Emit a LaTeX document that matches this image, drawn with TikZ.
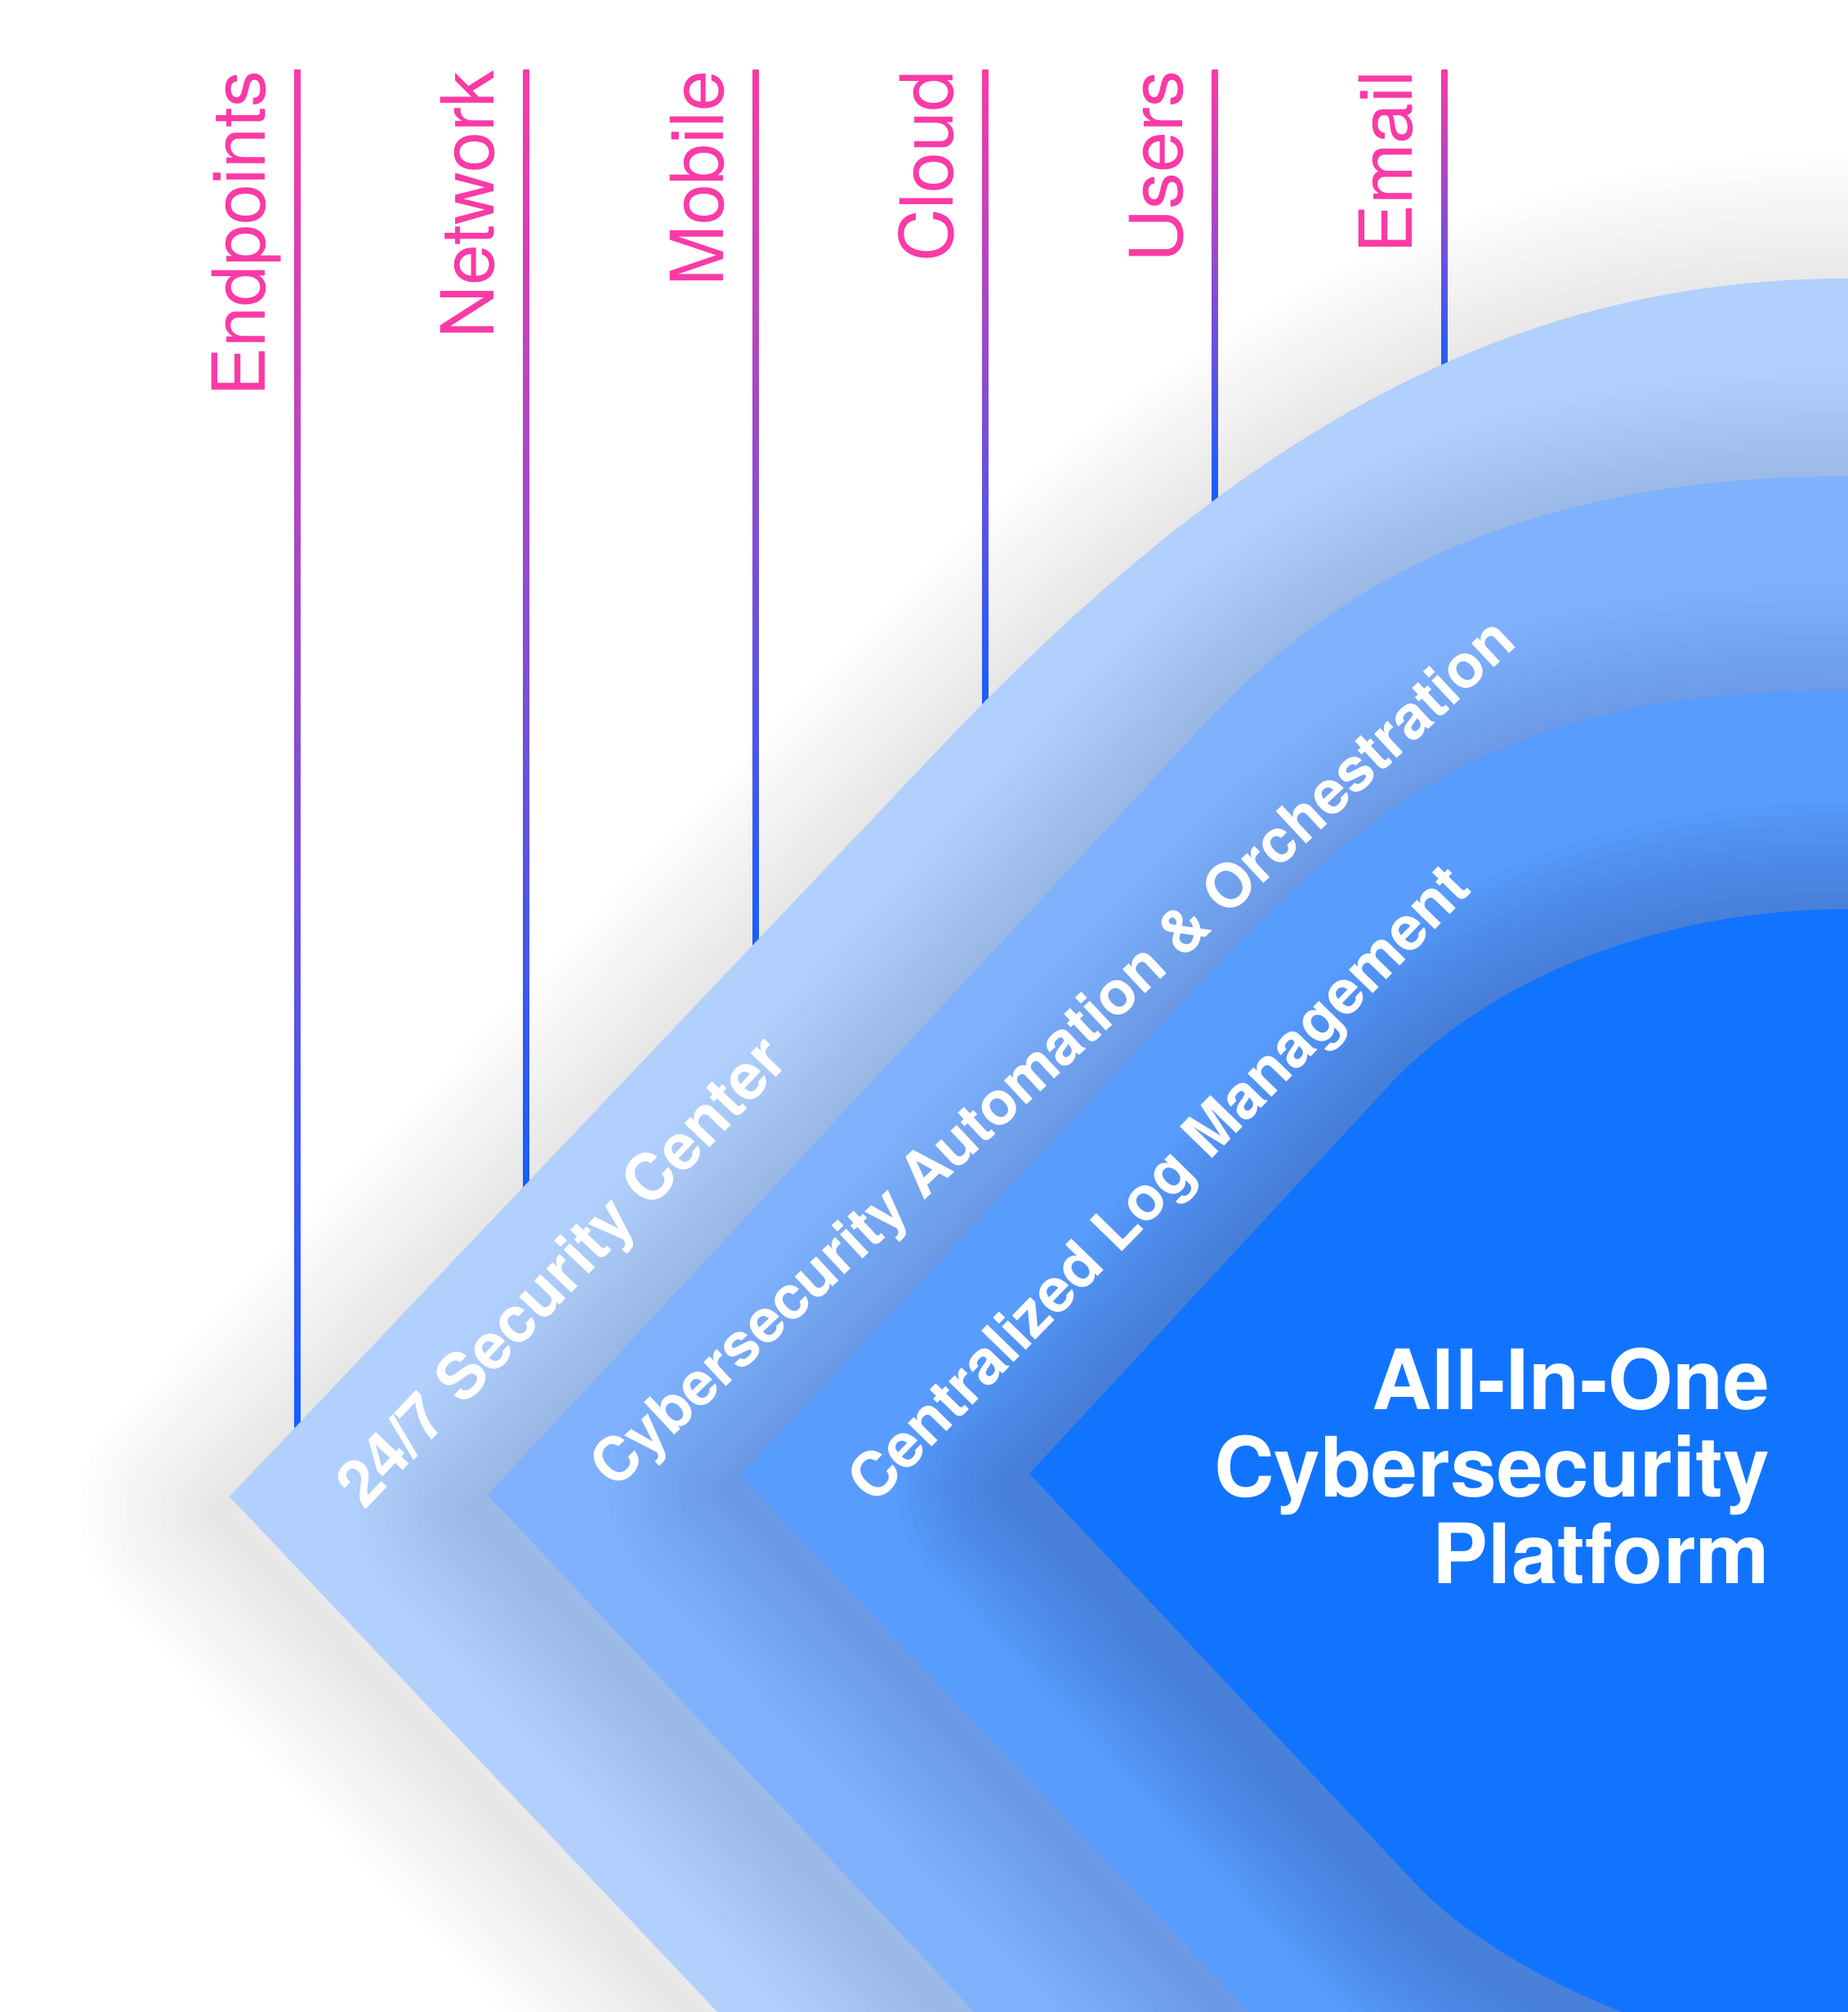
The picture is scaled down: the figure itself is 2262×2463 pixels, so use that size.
\documentclass[tikz,border=0pt]{standalone}
\usepackage{fontspec}
\setmainfont{TeX Gyre Heros}
\usepackage{tikz}
\definecolor{tagpink}{RGB}{250, 58, 166}
\definecolor{stemblue}{RGB}{20, 95, 255}
\definecolor{bandone}{RGB}{177, 208, 253}
\definecolor{bandtwo}{RGB}{127, 177, 253}
\definecolor{bandthree}{RGB}{88, 156, 254}
\definecolor{bandfour}{RGB}{17, 116, 255}
\definecolor{shadownavy}{RGB}{28, 38, 92}

\tikzset{
  tag/.style={inner sep=0pt, text=tagpink, font=\fontsize{25.5}{30}\selectfont},
  stem/.style={top color=tagpink, bottom color=stemblue},
  halo/.style={draw=shadownavy, draw opacity=#1, line join=round, transform canvas={xshift=-4pt, yshift=-5pt}},
  bandtext/.style={inner sep=0pt, text=white, font=\bfseries\fontsize{21.5}{26}\selectfont},
  titletext/.style={inner sep=0pt, text=white, font=\bfseries\fontsize{29}{30}\selectfont},
}

\begin{document}
\begin{tikzpicture}[x=0.1mm, y=-0.1mm]
\useasboundingbox (0,0) rectangle (2262,2463);
\clip (0,0) rectangle (2262,2463);
\fill[white] (0,0) rectangle (2262,2463);

% outlines of the layers, outer to inner
\path[save path=\layerone] (2400,341) -- (2262,341) .. controls (1862,341) and (1528,517) .. (1150,916) -- (281,1832) -- (1008,2600) -- (2400,2600) -- cycle;
\path[save path=\layertwo] (2400,583) -- (2262,583) .. controls (1900,583) and (1659,691) .. (1480,880) -- (597,1830) -- (1322,2600) -- (2400,2600) -- cycle;
\path[save path=\layerthree] (2400,845) -- (2262,845) .. controls (1850,845) and (1689,968) .. (1450,1224) -- (906,1806) -- (1659,2600) -- (2400,2600) -- cycle;
\path[save path=\layerfour] (2400,1113) -- (2262,1113) .. controls (2000,1113) and (1802,1219) .. (1700,1329) -- (1260,1804) -- (1733,2306) .. controls (1821,2401) and (2050,2520) .. (2262,2520) -- (2400,2520) -- cycle;

% soft shadow of the outer layer
\foreach \w in {8,16,...,96}
  \draw[halo=0.009, line width=\w pt, use path=\layerone];

% stems and their tags
\coordinate (endpoints top) at (364,86);
\coordinate (endpoints end) at (364,1760);
\coordinate (network top) at (644,86);
\coordinate (network end) at (644,1465);
\coordinate (mobile top) at (925,86);
\coordinate (mobile end) at (925,1170);
\coordinate (cloud top) at (1206,86);
\coordinate (cloud end) at (1206,875);
\coordinate (users top) at (1487,86);
\coordinate (users end) at (1487,615);
\coordinate (email top) at (1768,86);
\coordinate (email end) at (1768,458);
\shade[stem] ([xshift=-1pt]endpoints top) rectangle ([xshift=1pt]endpoints end);
\shade[stem] ([xshift=-1pt]network top) rectangle ([xshift=1pt]network end);
\shade[stem] ([xshift=-1pt]mobile top) rectangle ([xshift=1pt]mobile end);
\shade[stem] ([xshift=-1pt]cloud top) rectangle ([xshift=1pt]cloud end);
\shade[stem] ([xshift=-1pt]users top) rectangle ([xshift=1pt]users end);
\shade[stem] ([xshift=-1pt]email top) rectangle ([xshift=1pt]email end);
\node (endpoints) [tag, anchor=base east, rotate=90] at (324,86) {Endpoints};
\node (network) [tag, anchor=base east, rotate=90] at (604,86) {Network};
\node (mobile) [tag, anchor=base east, rotate=90] at (885,86) {Mobile};
\node (cloud) [tag, anchor=base east, rotate=90] at (1166,86) {Cloud};
\node (users) [tag, anchor=base east, rotate=90] at (1447,86) {Users};
\node (email) [tag, anchor=base east, rotate=90] at (1728,86) {Email};

% layers with the shadows they cast inwards
\fill[bandone, use path=\layerone];
\foreach \w in {7,14,...,84}
  \draw[halo=0.0105, line width=\w pt, use path=\layertwo];
\fill[bandtwo, use path=\layertwo];
\foreach \w in {7,14,...,84}
  \draw[halo=0.0105, line width=\w pt, use path=\layerthree];
\fill[bandthree, use path=\layerthree];
\foreach \w in {7,14,...,84}
  \draw[halo=0.019, line width=\w pt, use path=\layerfour];
\fill[bandfour, use path=\layerfour];

% band labels
\node (soc) [bandtext, anchor=base west, rotate=46.5, font=\bfseries\fontsize{22.4}{26}\selectfont] at (446,1850) {24/7 Security Center};
\node (soar) [bandtext, anchor=base west, rotate=43.1, font=\bfseries\fontsize{21.2}{26}\selectfont] at (752,1825) {Cybersecurity Automation \& Orchestration};
\node (logs) [bandtext, anchor=base west, rotate=45.8] at (1070,1844) {Centralized Log Management};

% title
\node (title one) [titletext, anchor=base east] at (2167,1725) {All-In-One};
\node (title two) [titletext, anchor=base east] at (2167,1832) {Cybersecurity};
\node (title three) [titletext, anchor=base east] at (2167,1938) {Platform};
\end{tikzpicture}
\end{document}
